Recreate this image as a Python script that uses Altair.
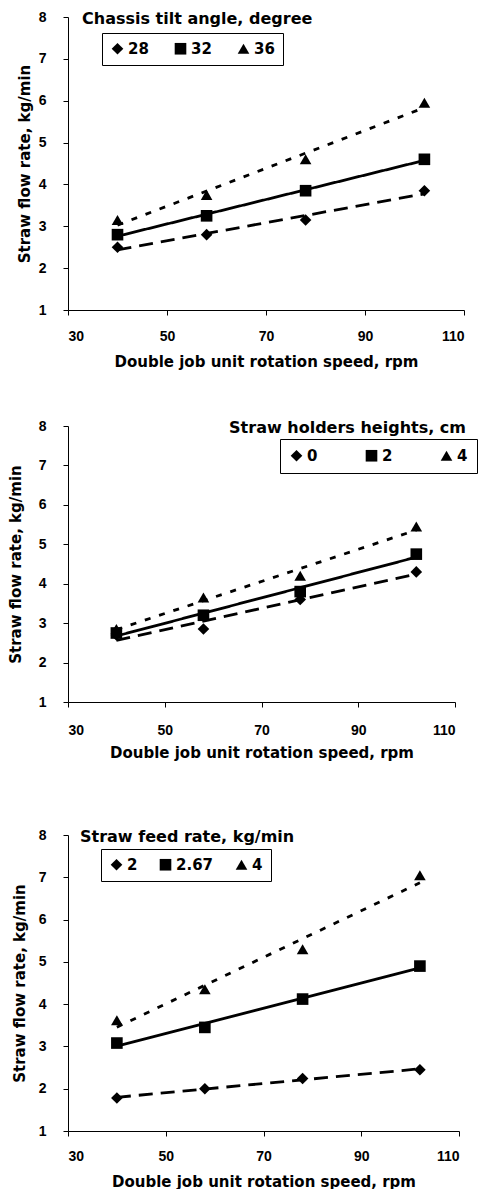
import altair as alt
import pandas as pd

# ---- data ----
speed = [40, 58, 78, 102]

p1_title = "Chassis tilt angle, degree"
p1_labels = ["28", "32", "36"]
p1_a = [2.50, 2.80, 3.15, 3.85]
p1_b = [2.80, 3.25, 3.85, 4.60]
p1_c = [3.15, 3.75, 4.60, 5.95]

p2_title = "Straw holders heights, cm"
p2_labels = ["0", "2", "4"]
p2_a = [2.70, 2.85, 3.60, 4.30]
p2_b = [2.75, 3.20, 3.80, 4.75]
p2_c = [2.85, 3.65, 4.20, 5.45]

p3_title = "Straw feed rate, kg/min"
p3_labels = ["2", "2.67", "4"]
p3_a = [1.78, 2.00, 2.24, 2.45]
p3_b = [3.08, 3.45, 4.12, 4.90]
p3_c = [3.62, 4.35, 5.30, 7.05]

x_ticks = [30, 50, 70, 90, 110]
y_ticks = [1, 2, 3, 4, 5, 6, 7, 8]
x_title = "Double job unit rotation speed, rpm"
y_title = "Straw flow rate, kg/min"

FONT = "DejaVu Sans"
TICK_FONT = "Liberation Sans"


def panel(key, title, labels, a, b, c, width, height, y_title_pad,
          x_label_pad, x_title_pad, leg_x, leg_y, col_pad, leg_pad,
          txt_x, txt_align):
    fld = "series_" + key
    df = pd.DataFrame({
        "speed": speed * 3,
        "rate": a + b + c,
        fld: [labels[0]] * 4 + [labels[1]] * 4 + [labels[2]] * 4,
    })
    xenc = alt.X(
        "speed:Q",
        scale=alt.Scale(domain=[30, 110], nice=False, zero=False),
        axis=alt.Axis(values=x_ticks, title=x_title, labelPadding=x_label_pad,
                      titlePadding=x_title_pad),
    )
    yenc = alt.Y(
        "rate:Q",
        scale=alt.Scale(domain=[1, 8], nice=False, zero=False),
        axis=alt.Axis(values=y_ticks, title=y_title, labelPadding=17,
                      titlePadding=y_title_pad),
    )
    base = alt.Chart(df)
    lines = base.transform_regression(
        "speed", "rate", groupby=[fld]
    ).mark_line(color="black", strokeWidth=2.8).encode(
        x=xenc,
        y=yenc,
        strokeDash=alt.StrokeDash(
            fld + ":N",
            scale=alt.Scale(domain=labels, range=[[14, 8], [1, 0], [6, 9]]),
            legend=None,
        ),
    )
    pts = base.mark_point(filled=True, color="black", opacity=1,
                          size=135).encode(
        x=xenc,
        y=yenc,
        shape=alt.Shape(
            fld + ":N",
            scale=alt.Scale(domain=labels,
                            range=["diamond", "square", "triangle-up"]),
            legend=alt.Legend(
                title=None, orient="none", legendX=leg_x, legendY=leg_y,
                direction="horizontal", columns=3, strokeColor="black",
                padding=leg_pad, columnPadding=col_pad,
                symbolFillColor="black", symbolStrokeColor="black",
                symbolSize=135, symbolStrokeWidth=0, labelOffset=3,
                labelFont=FONT, labelFontSize=15, labelFontWeight="bold",
                labelColor="black",
            ),
        ),
    )
    txt = alt.Chart(pd.DataFrame({"t": [title]})).mark_text(
        align=txt_align, baseline="middle", font=FONT, fontSize=16,
        fontWeight="bold", color="black",
    ).encode(x=alt.value(txt_x), y=alt.value(2), text="t:N")
    return alt.layer(lines, pts, txt).resolve_scale(
        shape="independent", strokeDash="independent"
    ).properties(width=width, height=height)


c1 = panel("a", p1_title, p1_labels, p1_a, p1_b, p1_c, 396, 293, 6,
           14, 11, 34, 16, 24, 8, 14, "left")
c2 = panel("b", p2_title, p2_labels, p2_a, p2_b, p2_c, 387, 276, 15,
           16, 8, 212, 13, 46, 9, 398, "right")
c3 = panel("c", p3_title, p3_labels, p3_a, p3_b, p3_c, 391, 296, 11,
           13, 11, 33, 14, 20, 8, 12, "left")

inner = alt.vconcat(c1, c2, spacing=50).resolve_scale(
    shape="independent", strokeDash="independent"
).resolve_legend(shape="independent", strokeDash="independent")

chart = alt.vconcat(inner, c3, spacing=68).resolve_scale(
    shape="independent", strokeDash="independent"
).resolve_legend(
    shape="independent", strokeDash="independent"
).properties(
    padding={"left": 0, "top": 2, "right": 0, "bottom": 0}
).configure_view(stroke=None).configure_axis(
    domainColor="black", domainWidth=1, tickColor="black", tickSize=5,
    grid=False, labelFont=TICK_FONT, labelFontSize=14, labelFontWeight="bold",
    labelColor="black", titleFont=FONT, titleFontSize=15,
    titleFontWeight="bold", titleColor="black",
)

chart.save("out.html", embed_options={"renderer": "svg", "actions": False})
